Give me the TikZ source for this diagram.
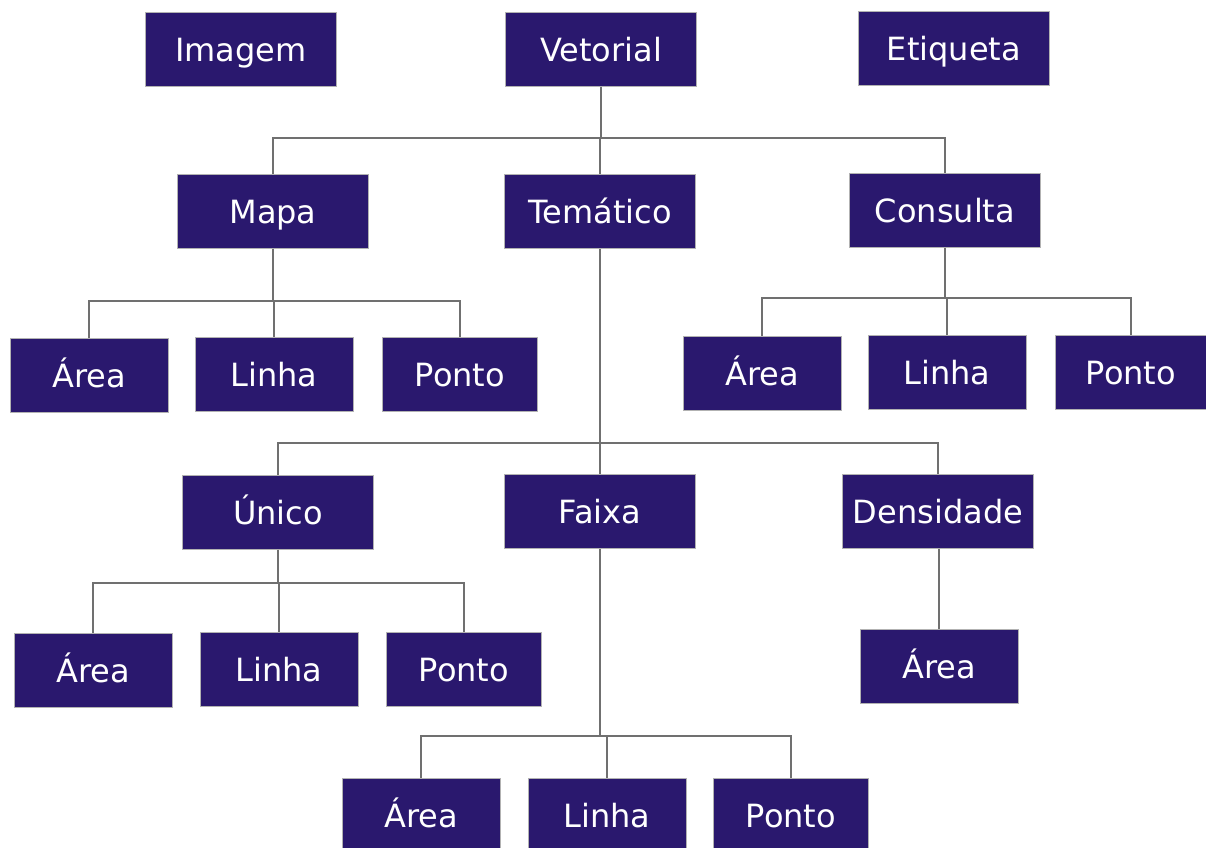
\documentclass[tikz,border=0pt]{standalone}
\usepackage{fontspec}
\setmainfont{DejaVu Sans}
\definecolor{azulcaixa}{RGB}{42,24,110}
\definecolor{cinzalinha}{RGB}{112,112,112}
\tikzset{
  caixa/.style={draw=gray!60,line width=1pt,fill=azulcaixa,text=white,
    minimum width=191pt,minimum height=74pt,inner sep=0pt,
    text height=30pt,text depth=6pt,
    font=\fontsize{32}{38}\selectfont},
  folha/.style={caixa,minimum width=158pt},
  liga/.style={draw=cinzalinha,line width=2pt}
}
\begin{document}
\begin{tikzpicture}[x=1pt,y=-1pt]
\useasboundingbox[fill=white] (0,0) rectangle (1206,847);
% nivel superior
\node[caixa] (imagem) at (241,49) {Imagem};
\node[caixa] (vetorial) at (601,49) {Vetorial};
\node[caixa] (etiqueta) at (954,48) {Etiqueta};
% segundo nivel
\node[caixa] (mapa) at (273,211) {Mapa};
\node[caixa] (tematico) at (600,211) {Temático};
\node[caixa] (consulta) at (945,210) {Consulta};
% folhas de mapa e consulta
\node[folha] (mapaarea) at (89,375) {Área};
\node[folha] (mapalinha) at (274,374) {Linha};
\node[folha,minimum width=155pt] (mapaponto) at (460,374) {Ponto};
\node[folha] (consarea) at (762,373) {Área};
\node[folha] (conslinha) at (947,372) {Linha};
\node[folha,minimum width=152pt] (consponto) at (1131,372) {Ponto};
% tematico
\node[caixa] (unico) at (278,512) {Único};
\node[caixa] (faixa) at (600,511) {Faixa};
\node[caixa] (densidade) at (938,511) {Densidade};
\node[folha] (unicoarea) at (93,670) {Área};
\node[folha] (unicolinha) at (279,669) {Linha};
\node[folha,minimum width=155pt] (unicoponto) at (464,669) {Ponto};
\node[folha] (densarea) at (939,666) {Área};
\node[folha] (faixaarea) at (421,815) {Área};
\node[folha] (faixalinha) at (607,815) {Linha};
\node[folha,minimum width=155pt] (faixaponto) at (791,815) {Ponto};
% barramentos
\coordinate (bv) at (601,138);
\coordinate (bm) at (273,301);
\coordinate (bc) at (945,298);
\coordinate (bt) at (600,443);
\coordinate (bu) at (278,583);
\coordinate (bf) at (600,736);
\draw[liga] (vetorial) -- (bv);
\draw[liga] (bv) -| (mapa);
\draw[liga] (bv) -| (consulta);
\draw[liga] (bv) -| (tematico);
\draw[liga] (mapa) -- (bm);
\draw[liga] (bm) -| (mapaarea);
\draw[liga] (bm) -| (mapaponto);
\draw[liga] (bm) -| (mapalinha);
\draw[liga] (consulta) -- (bc);
\draw[liga] (bc) -| (consarea);
\draw[liga] (bc) -| (consponto);
\draw[liga] (bc) -| (conslinha);
\draw[liga] (tematico) -- (bt);
\draw[liga] (bt) -| (unico);
\draw[liga] (bt) -| (densidade);
\draw[liga] (bt) -- (faixa);
\draw[liga] (unico) -- (bu);
\draw[liga] (bu) -| (unicoarea);
\draw[liga] (bu) -| (unicoponto);
\draw[liga] (bu) -| (unicolinha);
\draw[liga] (faixa) -- (bf);
\draw[liga] (bf) -| (faixaarea);
\draw[liga] (bf) -| (faixaponto);
\draw[liga] (bf) -| (faixalinha);
\draw[liga] (densidade.south -| densarea) -- (densarea);
\end{tikzpicture}
\end{document}
